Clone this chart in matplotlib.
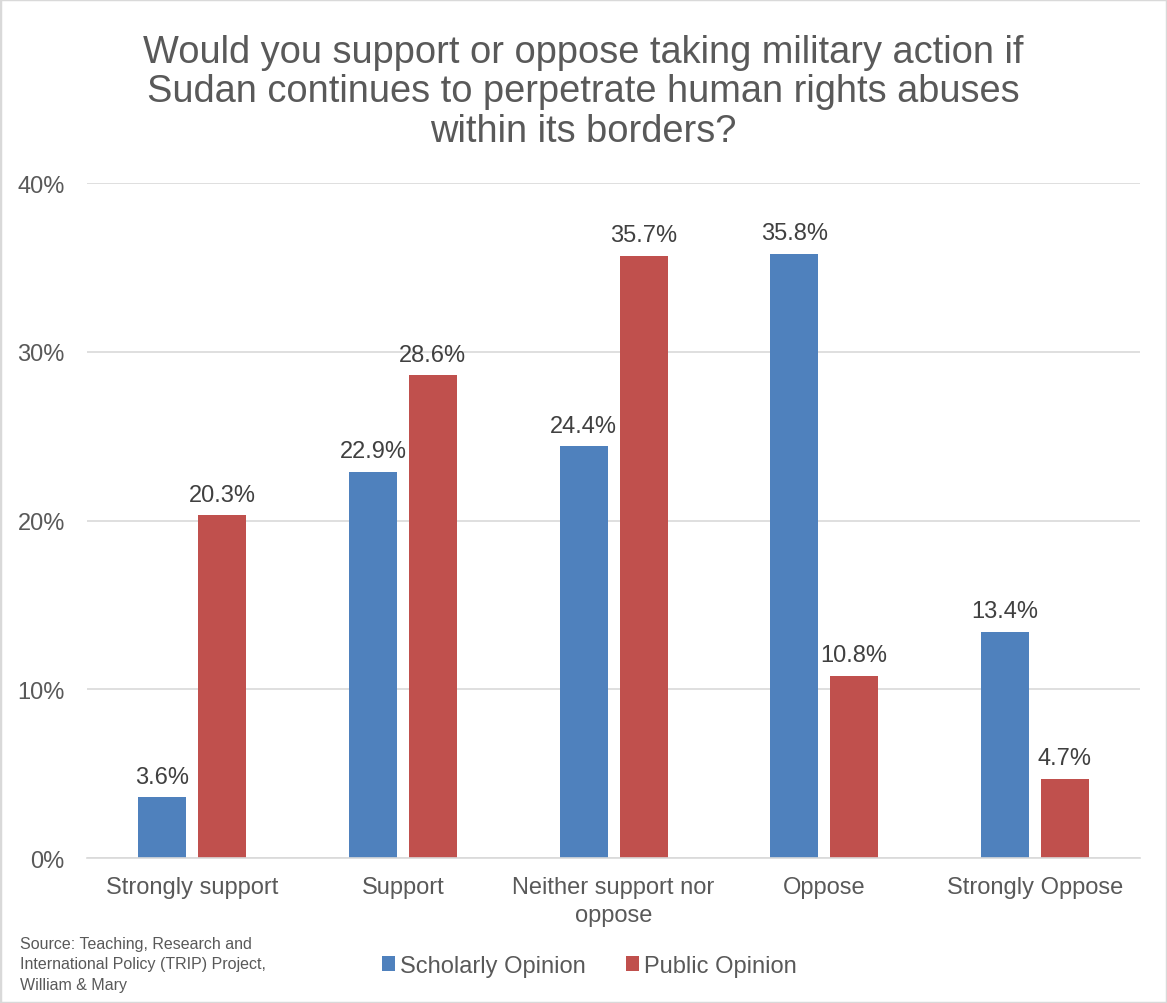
import numpy as np
import matplotlib.pyplot as plt
from matplotlib.patches import Rectangle
from matplotlib.ticker import FuncFormatter

plt.rcParams["font.family"] = ["Liberation Sans", "DejaVu Sans"]

categories = ["Strongly support", "Support", "Neither support nor\noppose", "Oppose", "Strongly Oppose"]
scholarly = [3.6, 22.9, 24.4, 35.8, 13.4]
public = [20.3, 28.6, 35.7, 10.8, 4.7]
series_names = ["Scholarly Opinion", "Public Opinion"]

BLUE = "#4F81BD"
RED = "#C0504D"
TXT = "#595959"

fig = plt.figure(figsize=(11.67, 10.04), dpi=100)
ax = fig.add_axes([0.0746, 0.1444, 0.9024, 0.6723])

x = np.arange(len(categories))
w = 0.228
off = 0.142
b1 = ax.bar(x - off, scholarly, w, color=BLUE, label=series_names[0])
b2 = ax.bar(x + off, public, w, color=RED, label=series_names[1])

# etiquetas de valor encima de cada barra
for bars, vals in ((b1, scholarly), (b2, public)):
    for r, v in zip(bars, vals):
        ax.annotate(f"{v:.1f}%", (r.get_x() + r.get_width() / 2, v),
                    xytext=(0, 7), textcoords="offset points",
                    ha="center", va="bottom", fontsize=17, color="#404040")

ax.set_xlim(-0.5, len(categories) - 0.5)
ax.set_ylim(0, 40)
ax.set_yticks([0, 10, 20, 30, 40])
ax.yaxis.set_major_formatter(FuncFormatter(lambda v, p: f"{v:.0f}%"))
ax.set_xticks(x)
ax.set_xticklabels(categories, linespacing=1.32)
ax.tick_params(axis="both", length=0, labelsize=17, labelcolor=TXT)
ax.tick_params(axis="y", pad=16)
ax.tick_params(axis="x", pad=13)
ax.grid(axis="y", color="#D9D9D9", linewidth=1.2)
ax.set_axisbelow(True)
for s in ("left", "right", "top"):
    ax.spines[s].set_visible(False)
ax.spines["bottom"].set_color("#D9D9D9")
ax.spines["bottom"].set_linewidth(1.2)

fig.text(0.5, 0.965, "Would you support or oppose taking military action if\n"
         "Sudan continues to perpetrate human rights abuses\nwithin its borders?",
         ha="center", va="top", fontsize=27.4, color=TXT, linespacing=1.12)

fig.text(0.017, 0.067, "Source: Teaching, Research and\nInternational Policy (TRIP) Project,\nWilliam & Mary",
         ha="left", va="top", fontsize=11.5, color=TXT, linespacing=1.45)

leg = fig.legend(handles=[b1, b2], loc="center", bbox_to_anchor=(0.505, 0.037), ncol=2,
                 frameon=False, fontsize=17, handlelength=0.55, handleheight=0.55,
                 handletextpad=0.2, columnspacing=1.7)
for t in leg.get_texts():
    t.set_color(TXT)

fig.patches.append(Rectangle((0, 0), 1, 1, transform=fig.transFigure, fill=False,
                             edgecolor="#D9D9D9", linewidth=2.5))

fig.savefig("out.png", dpi=100)
